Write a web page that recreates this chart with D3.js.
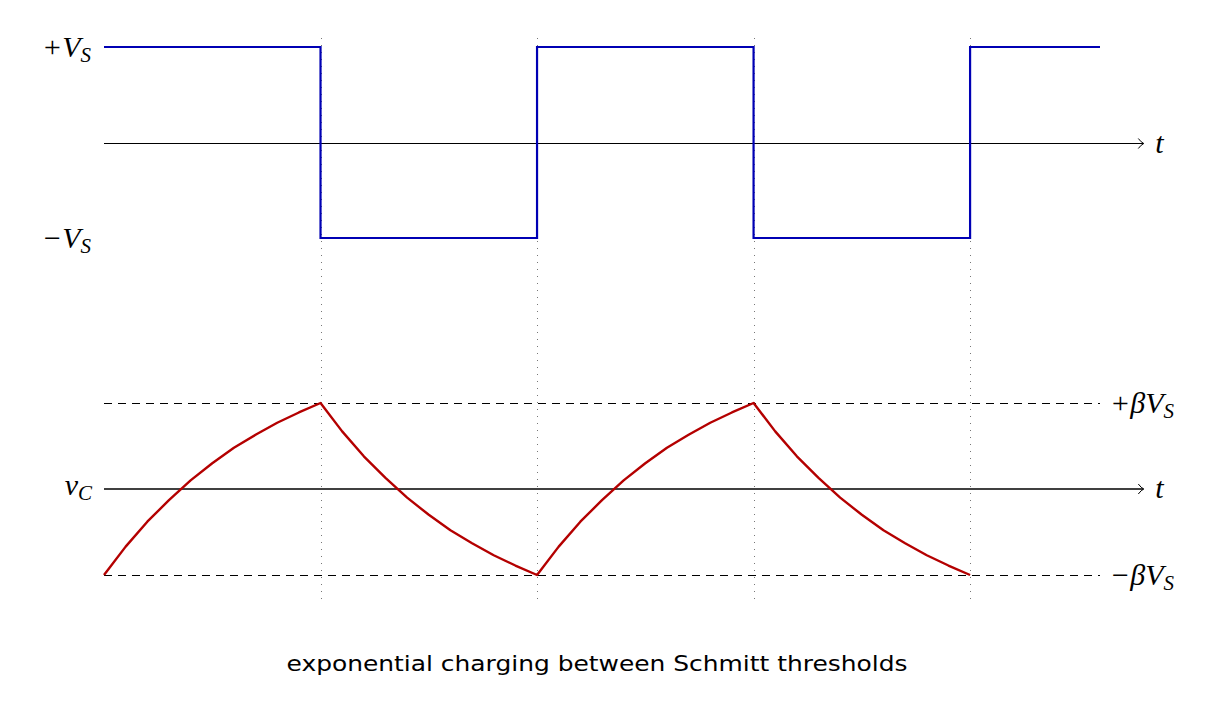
<!DOCTYPE html>
<html>
<head>
<meta charset="utf-8">
<script src="https://cdn.jsdelivr.net/npm/d3@7"></script>
<style>
  body { margin: 0; background: #fff; }
  .math { font-family: "Liberation Serif", "DejaVu Serif", serif; font-style: italic; }
</style>
</head>
<body>
<div class="mainbody"></div>
<script>

// square wave output (units of Vs)
var sqT = [0, 1, 1, 2, 2, 3, 3, 4, 4, 4.6];
var sqV = [1, 1, -1, -1, 1, 1, -1, -1, 1, 1];

// capacitor voltage (units of beta*Vs)
var capT = [0, 0.1, 0.2, 0.3, 0.4, 0.5, 0.6, 0.7, 0.8, 0.9, 1,
            1.1, 1.2, 1.3, 1.4, 1.5, 1.6, 1.7, 1.8, 1.9, 2,
            2.1, 2.2, 2.3, 2.4, 2.5, 2.6, 2.7, 2.8, 2.9, 3,
            3.1, 3.2, 3.3, 3.4, 3.5, 3.6, 3.7, 3.8, 3.9, 4];
var capV = [-1, -0.67, -0.38, -0.13, 0.10, 0.30, 0.48, 0.63, 0.77, 0.89, 1,
            0.67, 0.38, 0.13, -0.10, -0.30, -0.48, -0.63, -0.77, -0.89, -1,
            -0.67, -0.38, -0.13, 0.10, 0.30, 0.48, 0.63, 0.77, 0.89, 1,
            0.67, 0.38, 0.13, -0.10, -0.30, -0.48, -0.63, -0.77, -0.89, -1];

// switching instants and threshold levels
var switchT = [1, 2, 3, 4];
var thresholds = [1, -1];
var caption = "exponential charging between Schmitt thresholds";

let w = 1224,
    h = 711;

let svg = d3.select(".mainbody")
        .append("svg")
        .attr("width", w)
        .attr("height", h);

let x = d3.scaleLinear().domain([0, 4.6]).range([104, 1100]);
let yTop = d3.scaleLinear().domain([-1, 1]).range([238, 47]);
let yBot = d3.scaleLinear().domain([-1, 1]).range([575, 403]);
let tEnd = 4.8;  // where the time axes stop

// dotted guides at each switching instant
svg.append("g")
   .selectAll("line")
   .data(switchT)
   .enter()
   .append("line")
   .attr("x1", d => Math.round(x(d)) + 0.5)
   .attr("x2", d => Math.round(x(d)) + 0.5)
   .attr("y1", 38)
   .attr("y2", 604)
   .attr("stroke", "#777")
   .attr("stroke-width", 1)
   .attr("stroke-dasharray", "1 6")
   .attr("shape-rendering", "crispEdges");

// dashed threshold lines
svg.append("g")
   .selectAll("line")
   .data(thresholds)
   .enter()
   .append("line")
   .attr("x1", x(0))
   .attr("x2", x(4.6))
   .attr("y1", d => yBot(d) + 0.5)
   .attr("y2", d => yBot(d) + 0.5)
   .attr("stroke", "#000")
   .attr("stroke-width", 1)
   .attr("stroke-dasharray", "8 6")
   .attr("shape-rendering", "crispEdges");

// time axes with open arrow heads
function timeAxis(y0, sw) {
  svg.append("line")
     .attr("x1", x(0)).attr("x2", x(tEnd))
     .attr("y1", y0).attr("y2", y0)
     .attr("stroke", "#000")
     .attr("stroke-width", sw);
  let xe = x(tEnd);
  svg.append("path")
     .attr("d", `M${xe - 5},${y0 - 5} Q${xe - 2},${y0 - 1} ${xe + 0.5},${y0} Q${xe - 2},${y0 + 1} ${xe - 5},${y0 + 5}`)
     .attr("fill", "none")
     .attr("stroke", "#000")
     .attr("stroke-width", 1);
  svg.append("text")
     .attr("class", "math")
     .attr("x", xe + 12)
     .attr("y", y0 + 9)
     .attr("font-size", 30)
     .text("t");
}
timeAxis(Math.round(yTop(0)) + 0.5, 1);
timeAxis(yBot(0), 1.6);

// square wave
let sqData = sqT.map((t, i) => ({t: t, v: sqV[i]}));
svg.append("path")
   .datum(sqData)
   .attr("d", d3.line().x(d => x(d.t)).y(d => yTop(d.v)))
   .attr("fill", "none")
   .attr("stroke", "rgb(0,0,180)")
   .attr("stroke-width", 2.2);

// capacitor voltage
let capData = capT.map((t, i) => ({t: t, v: capV[i]}));
svg.append("path")
   .datum(capData)
   .attr("d", d3.line().x(d => x(d.t)).y(d => yBot(d.v)))
   .attr("fill", "none")
   .attr("stroke", "rgb(180,0,0)")
   .attr("stroke-width", 2.4)
   .attr("stroke-linejoin", "round");

// math labels, main part + subscript
function mathLabel(px, py, main, sub, anchor) {
  let t = svg.append("text")
     .attr("class", "math")
     .attr("x", px)
     .attr("y", py)
     .attr("font-size", 30)
     .attr("text-anchor", anchor);
  t.append("tspan").text(main);
  t.append("tspan").attr("font-size", 21).attr("dy", 5).text(sub);
}
mathLabel(91, yTop(1) + 10, "+V", "S", "end");
mathLabel(91, yTop(-1) + 10, "\u2212V", "S", "end");
mathLabel(92, yBot(0) + 6, "v", "C", "end");
mathLabel(1110, yBot(1) + 10, "+\u03B2V", "S", "start");
mathLabel(1110, yBot(-1) + 10, "\u2212\u03B2V", "S", "start");

// caption
svg.append("text")
   .attr("x", 597)
   .attr("y", 671)
   .attr("text-anchor", "middle")
   .attr("font-family", "'DejaVu Sans', sans-serif")
   .attr("font-size", 21)
   .attr("textLength", 621)
   .attr("lengthAdjust", "spacingAndGlyphs")
   .text(caption);

</script>
</body>
</html>
